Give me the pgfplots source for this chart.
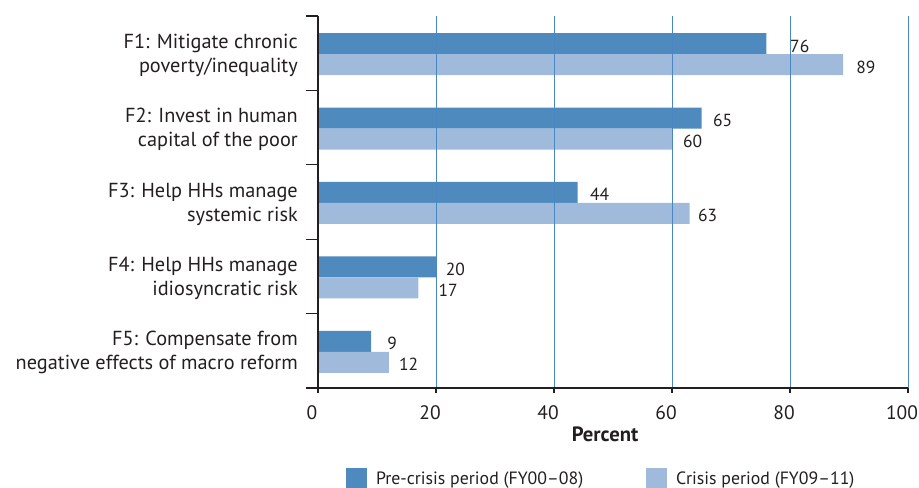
\documentclass[border=0pt]{standalone}
\usepackage{fontspec}
\setmainfont{PT Sans}
\usepackage{pgfplots}
\pgfplotsset{compat=1.18}
\usepackage{pgfplotstable}

\definecolor{precrisis}{HTML}{4E8ABE}
\definecolor{crisis}{HTML}{A0BADB}
\definecolor{gridblue}{HTML}{4A86C2}
\definecolor{ink}{HTML}{231F20}

% pos: category row (F1 = 4 at the top), val: percent, dx: gap before the value label (bp)
\pgfplotstableread{
pos val dx
4 76 23.6
3 65 11.5
2 44 12.4
1 20 9.7
0 9 16
}\precrisisdata
\pgfplotstableread{
pos val dx
4 89 13
3 60 11
2 63 8.3
1 17 20
0 12 10
}\crisisdata

\newcommand\catfont{\fontsize{20.3bp}{24bp}\selectfont}
\newcommand\tickfont{\fontsize{19.5bp}{24bp}\selectfont}
\newcommand\valfont{\fontsize{17.5bp}{21bp}\selectfont}
\newcommand\legfont{\fontsize{17.8bp}{21bp}\selectfont}

\pgfplotsset{
  value labels/.style={
    draw=none, mark=none, forget plot,
    point meta=explicit, nodes near coords,
    visualization depends on={\thisrow{dx} \as \dx},
    every node near coord/.append style={anchor=west, inner sep=0pt,
      xshift=\dx bp, yshift=#1, text=ink, font=\valfont}},
}

\begin{document}
\begin{tikzpicture}[x=1bp,y=1bp,text=ink]
\path[use as bounding box] (0,0) rectangle (919,488);
\begin{axis}[
  at={(318bp,100bp)}, anchor=south west,
  scale only axis, width=590bp, height=372bp,
  xmin=0, xmax=100, ymin=-0.5, ymax=4.5,
  axis x line=bottom, axis y line=left,
  axis line style={-, ink, line width=1.2bp},
  axis on top,
  /pgf/number format/assume math mode=true,
  xtick={0,20,...,100},
  ytick={0,...,4},
  minor ytick={-0.5,0.5,...,4.5},
  yticklabels={
    {F5: Compensate from\\negative effects of macro reform},
    {F4: Help HHs manage\\idiosyncratic risk},
    {F3: Help HHs manage\\systemic risk},
    {F2: Invest in human\\capital of the poor},
    {F1: Mitigate chronic\\poverty/inequality}},
  tick align=outside,
  major tick length=5bp,
  minor tick length=12bp,
  major x tick style={ink, line width=1.2bp},
  major y tick style={draw=none},
  minor y tick style={ink, line width=1.2bp},
  xmajorgrids,
  major x grid style={gridblue, line width=1bp},
  yticklabel style={align=right, inner sep=0pt, xshift=-15bp, yshift=-2bp, font=\catfont},
  xticklabel style={inner sep=0pt, xshift=-6bp, yshift=-12.5bp, font=\tickfont},
  xlabel={\textbf{Percent}},
  xlabel style={at={(axis description cs:0.5,0)}, anchor=north, inner sep=0pt,
    xshift=-8bp, yshift=-39bp, font=\fontsize{20.7bp}{24bp}\selectfont},
  legend columns=2,
  legend image code/.code={\fill[#1] (0bp,-10.5bp) rectangle (21bp,10.5bp);},
  legend style={draw=none, fill=none, inner sep=0pt, outer sep=0pt,
    at={(axis description cs:0.0475,-0.2446)}, anchor=west,
    nodes={inner sep=0pt, text=ink, font=\legfont},
    /tikz/every odd column/.style={column sep=9bp},
    /tikz/every even column/.style={column sep=63bp}},
  legend cell align=left,
]
\addplot[xbar, bar width=21bp, bar shift=9.5bp, fill=precrisis, draw=none]
  table[x=val, y=pos] {\precrisisdata};
\addlegendentry{Pre-crisis period (FY00–08)}
\addplot[xbar, bar width=21bp, bar shift=-11.5bp, fill=crisis, draw=none]
  table[x=val, y=pos] {\crisisdata};
\addlegendentry{Crisis period (FY09–11)}

% value labels at the end of each bar
\addplot[value labels=7.3bp] table[x=val, y=pos, meta=val] {\precrisisdata};
\addplot[value labels=-13.7bp] table[x=val, y=pos, meta=val] {\crisisdata};
\end{axis}
\end{tikzpicture}
\end{document}
